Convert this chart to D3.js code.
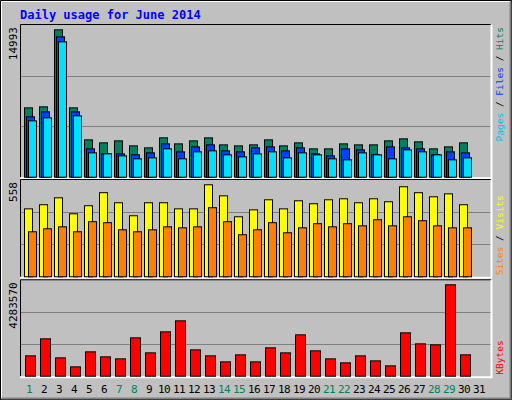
<!DOCTYPE html>
<html><head><meta charset="utf-8">
<script src="https://cdn.jsdelivr.net/npm/d3@7"></script>
<style>body{margin:0;background:#fff}svg{display:block}text{font-family:"DejaVu Sans Mono",monospace}</style>
</head><body>
<script>
// chart values
const days = d3.range(1, 32);
const weekend = [1, 7, 8, 14, 15, 21, 22, 28, 29];
const hits = [7055,7157,14993,7055,3799,3494,3697,3188,2985,4003,3392,3697,4003,3290,3188,3290,3799,3188,3494,2883,2883,3392,3290,3290,3697,3901,3596,2883,3087,3494];
const files = [6140,6648,14280,6648,2883,2374,2374,2273,2476,3392,2578,3087,3290,2680,2578,2985,3087,2680,2985,2374,2171,2883,2781,2273,3087,2985,2883,2273,2578,2476];
const pages = [5732,6038,13772,6241,2476,2374,2171,1866,1967,2883,1866,2578,2680,2273,2069,2374,2578,1967,2476,2273,1866,1764,2476,2273,1866,2781,2578,2273,1764,1967];
const visits = [412,437,479,382,431,510,449,370,449,449,412,412,558,491,364,406,467,412,461,443,467,473,449,473,455,546,510,485,503,437];
const sites = [273,291,303,273,334,328,285,273,285,303,297,303,419,334,255,285,328,267,297,322,303,322,309,346,309,364,340,309,297,297];
const kbytes = [61,112,55,28,73,58,52,115,70,133,166,79,61,43,64,43,85,70,124,76,52,40,61,46,31,130,97,94,274,64].map(d => d * 15633);
const maxLabels = ['14993', '558', '4283570'];

const W = 512, H = 400, L = 20, R = 491;
const svg = d3.select('body').append('svg').attr('width', W).attr('height', H);

svg.append('rect').attr('width', W).attr('height', H).attr('fill', '#c0c0c0');
// bevelled frame
svg.append('path').attr('d', `M0.5,${H-0.5}V0.5H${W-0.5}V${H-0.5}Z`).attr('fill', 'none').attr('stroke', '#000');
svg.append('path').attr('d', `M1.5,${H-2}V1.5H${W-2}`).attr('fill', 'none').attr('stroke', '#fff').attr('stroke-width', 1);
svg.append('path').attr('d', `M1.5,${H-1.5}H${W-1.5}V1.5`).attr('fill', 'none').attr('stroke', '#808080').attr('stroke-width', 2);

svg.append('text').attr('x', 20).attr('y', 19).attr('fill', '#0000ff')
    .attr('font-size', 12).attr('font-weight', 'bold').text('Daily usage for June 2014');

const x = d3.scaleBand().domain(days).range([L + 4, L + 4 + 15 * 31]);

const panels = [
    {top: 25, bottom: 176.7, max: 15434, series: [
        {data: hits, color: '#00805c', off: 0, w: 8},
        {data: files, color: '#0040ff', off: 2, w: 8},
        {data: pages, color: '#00e0ff', off: 4, w: 8}],
     legend: [['Pages', '#00c0e0'], ['Files', '#0040ff'], ['Hits', '#00805c']], atTop: true},
    {top: 180, bottom: 276.3, max: 584, series: [
        {data: visits, color: '#ffff00', off: 0, w: 8},
        {data: sites, color: '#ff8000', off: 4, w: 8}],
     legend: [['Sites', '#ff8000'], ['Visits', '#ffff00']]},
    {top: 280.3, bottom: 375.7, max: 4471038, series: [
        {data: kbytes, color: '#ff0000', off: 1, w: 10}],
     legend: [['KBytes', '#ff0000']]}
];

panels.forEach((p, pi) => {
    const y = d3.scaleLinear().domain([0, p.max]).range([p.bottom, p.top]);
    const g = svg.append('g');
    // gridlines at thirds of the panel
    [1, 2].forEach(k => {
        const gy = Math.round(p.top + (p.bottom - p.top) * k / 3) + 0.5;
        g.append('line').attr('x1', L).attr('x2', R).attr('y1', gy).attr('y2', gy).attr('stroke', '#808080');
    });
    g.append('path').attr('d', `M${L+0.5},${p.bottom+1}V${p.top-0.5}H${R}`).attr('fill', 'none').attr('stroke', '#000');
    g.append('path').attr('d', `M${L},${p.bottom+1.5}H${R+0.5}V${p.top-0.5}`).attr('fill', 'none').attr('stroke', '#fff').attr('stroke-width', 2);

    p.series.forEach(s => {
        g.selectAll(null).data(s.data).enter().append('rect')
            .attr('x', (d, i) => x(days[i]) + s.off + 0.5)
            .attr('y', d => y(d) + 0.5)
            .attr('width', s.w)
            .attr('height', d => p.bottom - y(d))
            .attr('fill', s.color).attr('stroke', '#000');
    });

    svg.append('text').attr('transform', `translate(17,${p.top + 2}) rotate(-90)`)
        .attr('text-anchor', 'end').attr('font-size', 11).attr('fill', '#000').text(maxLabels[pi]);

    const lt = svg.append('text')
        .attr('transform', p.atTop ? `translate(503,${p.top + 2}) rotate(-90)` : `translate(503,${p.bottom - 1}) rotate(-90)`)
        .attr('text-anchor', p.atTop ? 'end' : 'start')
        .attr('font-size', 9.5);
    p.legend.forEach((l, i) => {
        if (i > 0) lt.append('tspan').attr('fill', '#000').text(' / ');
        lt.append('tspan').attr('fill', l[1]).text(l[0]);
    });
});

svg.append('g').selectAll('text').data(days).enter().append('text')
    .attr('x', d => x(d) + 5).attr('y', 393).attr('text-anchor', 'middle')
    .attr('font-size', 11).attr('letter-spacing', -0.5)
    .attr('fill', d => weekend.includes(d) ? '#00805c' : '#000')
    .text(d => d);
</script>
</body></html>
